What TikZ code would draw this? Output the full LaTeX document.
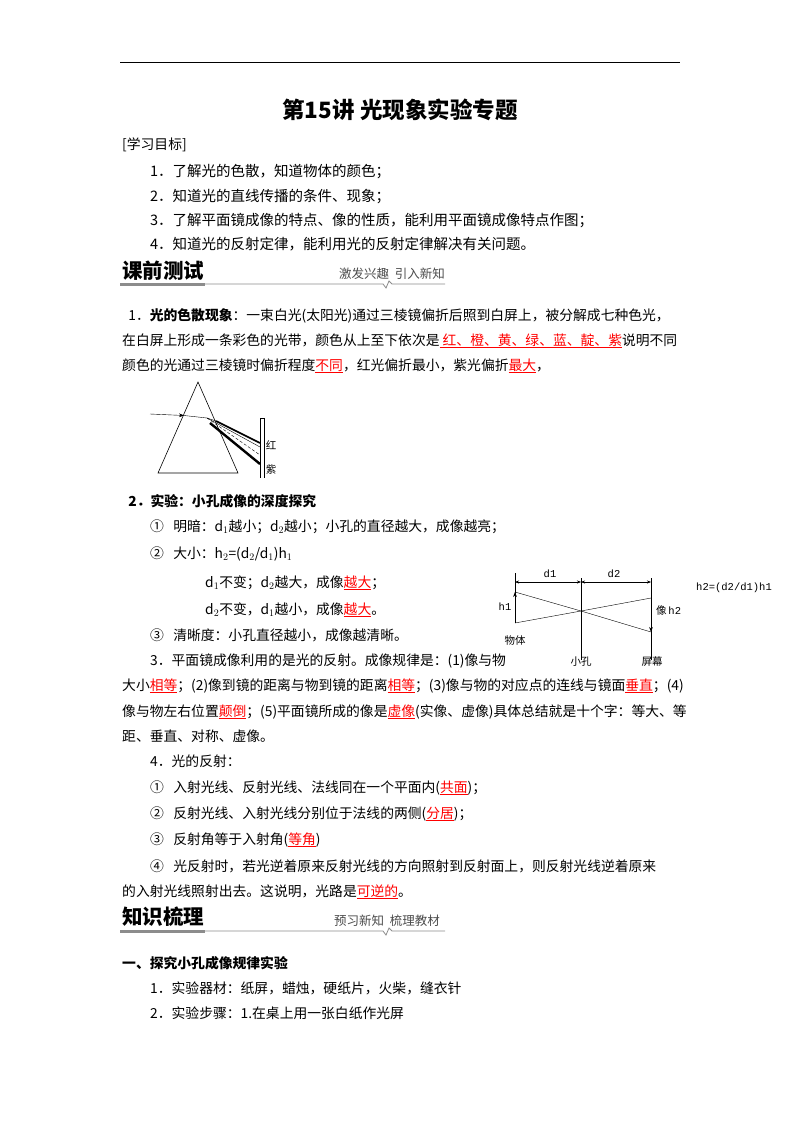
\documentclass[tikz,border=0pt]{standalone}
\usepackage{fontspec}
\setmainfont{Noto Sans CJK SC}
\newfontfamily\monof{Liberation Mono}
\usetikzlibrary{arrows.meta}
\newcommand{\rl}[1]{\textcolor{red}{$\underline{\hbox{#1}}$}}
\begin{document}
\begin{tikzpicture}[x=1pt,y=-1pt,
  tx/.style={anchor=base west,inner sep=0pt,font=\fontsize{13.8}{15}\selectfont},
  gx/.style={anchor=base west,inner sep=0pt,font=\fontsize{14.5}{15}\selectfont},
  hd/.style={anchor=base west,inner sep=0pt,font=\fontsize{20.5}{22}\selectfont\bfseries},
  hs/.style={anchor=base east,inner sep=0pt,font=\fontsize{12.5}{14}\selectfont\itshape,text=black!70},
  fl/.style={inner sep=1pt,font=\fontsize{10.5}{12}\selectfont}]
\useasboundingbox (0,0) rectangle (800,1132);
\fill[white] (0,0) rectangle (800,1132);
\draw[line width=1pt] (120,63) -- (680,63);
\node[anchor=base,inner sep=0pt,font=\fontsize{22.5}{24}\selectfont\bfseries] (title) at (400,118) {第15讲\ 光现象实验专题};
\node[tx] (g0) at (122,149) {[学习目标]};
\node[gx] (g1) at (150,176) {1．了解光的色散，知道物体的颜色；};
\node[gx] (g2) at (150,201) {2．知道光的直线传播的条件、现象；};
\node[gx] (g3) at (150,225) {3．了解平面镜成像的特点、像的性质，能利用平面镜成像特点作图；};
\node[gx] (g4) at (150,249) {4．知道光的反射定律，能利用光的反射定律解决有关问题。};
% header 1
\node[hd] (h1) at (122,278) {课前测试};
\node[hs] (h1s) at (445,278) {激发兴趣\ \ 引入新知};
\draw[black!45,line width=3pt] (120,284) -- (205,284);
\draw[black!45,line width=0.8pt] (205,284) -- (383,284) -- (386,288) -- (389,281) -- (392,284) -- (445,284);
% para 1
\node[tx] (p1a) at (122,320) {\ \ 1．\textbf{光的色散现象}：一束白光(太阳光)通过三棱镜偏折后照到白屏上，被分解成七种色光，};
\node[tx] (p1b) at (122,345) {在白屏上形成一条彩色的光带，颜色从上至下依次是\rl{\ 红、橙、黄、绿、蓝、靛、紫}说明不同};
\node[tx] (p1c) at (122,370) {颜色的光通过三棱镜时偏折程度\rl{不同}，红光偏折最小，紫光偏折\rl{最大}，};
% prism
\draw[line width=0.6pt] (198,382) -- (158,473) -- (238,473) -- cycle;
\draw[line width=0.6pt] (260,418) -- (260,478) (264,418) -- (264,478) (260,418) -- (264,418);
\coordinate (r0) at (150,414);
\coordinate (r1) at (207,418);
\coordinate (r2) at (216,421);
\draw[-{Stealth[length=5pt]}] (r0) -- (184,415.5);
\draw (184,415.5) -- (r1) -- (r2);
\draw[densely dashed] (r1) -- (260,455);
\draw[line width=1.6pt] (r2) -- (260,443);
\draw[line width=2.4pt] (210,423) -- (260,464);
\draw (r1) -- (260,447);
\node[fl] (hong) at (271,445) {红};
\node[fl] (zi) at (271,470) {紫};
% section 2
\node[tx] (s2) at (122,506) {\ \ \textbf{2．实验：小孔成像的深度探究}};
\node[tx] (s2a) at (150,531) {①\ \ \ 明暗：d$_1$越小；d$_2$越小；小孔的直径越大，成像越亮；};
\node[tx] (s2b) at (150,558) {②\ \ \ 大小：h$_2$=(d$_2$/d$_1$)h$_1$};
\node[tx] (s2c) at (205,587) {d$_1$不变；d$_2$越大，成像\rl{越大}；};
\node[tx] (s2d) at (205,614) {d$_2$不变，d$_1$越小，成像\rl{越大}。};
\node[tx] (s2e) at (150,640) {③\ \ \ 清晰度：小孔直径越小，成像越清晰。};
% pinhole figure
\coordinate (oT) at (515,592); \coordinate (oB) at (515,623);
\coordinate (P) at (581,611);
\coordinate (sT) at (651,598); \coordinate (sB) at (651,632);
\draw[line width=0.6pt] (515,573) -- (515,623);
\draw[-{Stealth[length=5pt]},line width=0.6pt] (oB) -- (oT);
\draw[line width=0.6pt] (581,578) -- (581,660);
\draw[line width=1pt] (651,578) -- (651,660);
\draw[-{Stealth[length=5pt]},line width=1pt] (sT) -- (sB);
\draw[{Stealth[length=4pt]}-{Stealth[length=4pt]}] (515,582) -- (581,582);
\draw[{Stealth[length=4pt]}-{Stealth[length=4pt]}] (581,582) -- (651,582);
\draw (oT) -- (P) -- (sB);
\draw (oB) -- (P) -- (sT);
\node[fl] (dd1) at (550,574) {\monof d1};
\node[fl] (dd2) at (614,574) {\monof d2};
\node[fl] (lh1) at (505,607) {\monof h1};
\node[fl,anchor=west] (lh2) at (655,611) {像\,\monof h2};
\node[fl] (wt) at (515,641) {物体};
\node[fl] (xk) at (581,662) {小孔};
\node[fl] (pm) at (652,662) {屏幕};
\node[fl,anchor=west] (fm) at (695,588) {\monof h2=(d2/d1)h1};
% section 3
\node[tx] (s3a) at (150,665) {3．平面镜成像利用的是光的反射。成像规律是：(1)像与物};
\node[tx] (s3b) at (122,690) {大小\rl{相等}；(2)像到镜的距离与物到镜的距离\rl{相等}；(3)像与物的对应点的连线与镜面\rl{垂直}；(4)};
\node[tx] (s3c) at (122,716) {像与物左右位置\rl{颠倒}；(5)平面镜所成的像是\rl{虚像}(实像、虚像)具体总结就是十个字：等大、等};
\node[tx] (s3d) at (122,741) {距、垂直、对称、虚像。};
% section 4
\node[tx] (s4) at (150,766) {4．光的反射：};
\node[tx] (s4a) at (150,792) {①\ \ \ 入射光线、反射光线、法线同在一个平面内(\rl{共面})；};
\node[tx] (s4b) at (150,818) {②\ \ \ 反射光线、入射光线分别位于法线的两侧(\rl{分居})；};
\node[tx] (s4c) at (150,844) {③\ \ \ 反射角等于入射角(\rl{等角})};
\node[tx] (s4d) at (150,871) {④\ \ \ 光反射时，若光逆着原来反射光线的方向照射到反射面上，则反射光线逆着原来};
\node[tx] (s4e) at (122,896) {的入射光线照射出去。这说明，光路是\rl{可逆的}。};
% header 2
\node[hd] (h2) at (122,924) {知识梳理};
\node[hs] (h2s) at (440,925) {预习新知\ \ 梳理教材};
\draw[black!45,line width=3pt] (120,931) -- (205,931);
\draw[black!45,line width=0.8pt] (205,931) -- (383,931) -- (386,935) -- (389,928) -- (392,931) -- (445,931);
\node[tx] (k1) at (122,968) {\textbf{一、探究小孔成像规律实验}};
\node[tx] (k2) at (150,993) {1．实验器材：纸屏，蜡烛，硬纸片，火柴，缝衣针};
\node[tx] (k3) at (150,1018) {2．实验步骤：1.在桌上用一张白纸作光屏};
\end{tikzpicture}
\end{document}
